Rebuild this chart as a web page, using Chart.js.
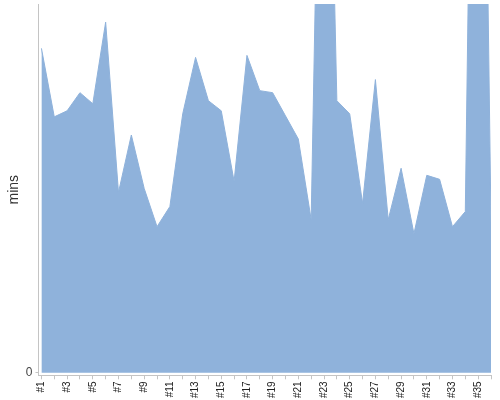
<!DOCTYPE html>
<html>
<head>
<meta charset="utf-8">
<script src="https://cdn.jsdelivr.net/npm/chart.js@4/dist/chart.umd.min.js"></script>
<style>
  html, body { margin: 0; padding: 0; background: #fff; }
  #wrap { width: 500px; height: 400px; }
</style>
</head>
<body>
<div id="wrap"><canvas id="minsChart"></canvas></div>
<script>
// run labels and minutes per run
let runLabels = [];
for (let i = 1; i <= 36; i++) runLabels.push('#' + i);
let minsValues = [322, 254, 260, 278, 267, 348, 179, 236, 183, 145,
                  165, 257, 313, 270, 260, 190, 315, 280, 278, 255,
                  232, 152, 840, 270, 257, 168, 291, 152, 203, 138,
                  196, 192, 145, 160, 1105, 148];
let yTickValues = [0];

let points = runLabels.map((lab, i) => ({ x: i + 1, y: minsValues[i] }));

let axisGrey = '#c4c4c4';

let config = {
    type: 'line',
    data: {
        datasets: [{
            label: 'mins',
            data: points,
            backgroundColor: 'rgb(143, 178, 219)',
            borderColor: 'rgb(143, 178, 219)',
            borderWidth: 1,
            pointRadius: 0,
            fill: 'origin',
            tension: 0
        }]
    },
    options: {
        responsive: true,
        maintainAspectRatio: false,
        animation: false,
        layout: { padding: { top: 4, right: 9, left: 6, bottom: 0 } },
        plugins: {
            legend: { display: false },
            tooltip: { enabled: false }
        },
        scales: {
            x: {
                type: 'linear',
                min: 0.77,
                max: 36,
                afterBuildTicks: (scale) => {
                    scale.ticks = runLabels.map((l, i) => ({ value: i + 1 }));
                },
                // no extra room for the rotated end labels
                afterFit: (scale) => {
                    scale.paddingLeft = 0;
                    scale.paddingRight = 0;
                },
                ticks: {
                    autoSkip: false,
                    minRotation: 90,
                    maxRotation: 90,
                    padding: 2,
                    color: '#222',
                    font: { family: 'Liberation Sans, Arial, sans-serif', size: 10 },
                    callback: (v, idx) => (idx % 2 === 0 ? runLabels[idx] : '')
                },
                grid: {
                    drawOnChartArea: false,
                    drawTicks: true,
                    tickLength: 4,
                    color: axisGrey
                },
                border: { display: true, color: axisGrey }
            },
            y: {
                min: -2.5,
                max: 366,
                afterBuildTicks: (scale) => {
                    scale.ticks = yTickValues.map(v => ({ value: v }));
                },
                afterFit: (scale) => {
                    scale.paddingTop = 0;
                },
                ticks: {
                    padding: 3,
                    color: '#444',
                    font: { family: 'Liberation Sans, Arial, sans-serif', size: 12 }
                },
                grid: {
                    drawOnChartArea: false,
                    drawTicks: true,
                    tickLength: 3,
                    color: axisGrey
                },
                border: { display: true, color: axisGrey },
                title: {
                    display: true,
                    text: 'mins',
                    color: '#333',
                    font: { family: 'Liberation Sans, Arial, sans-serif', size: 14 },
                    padding: { top: 0, bottom: 0 }
                }
            }
        }
    }
};

let ctx = document.getElementById('minsChart').getContext('2d');
let minsChart = new Chart(ctx, config);
</script>
</body>
</html>
